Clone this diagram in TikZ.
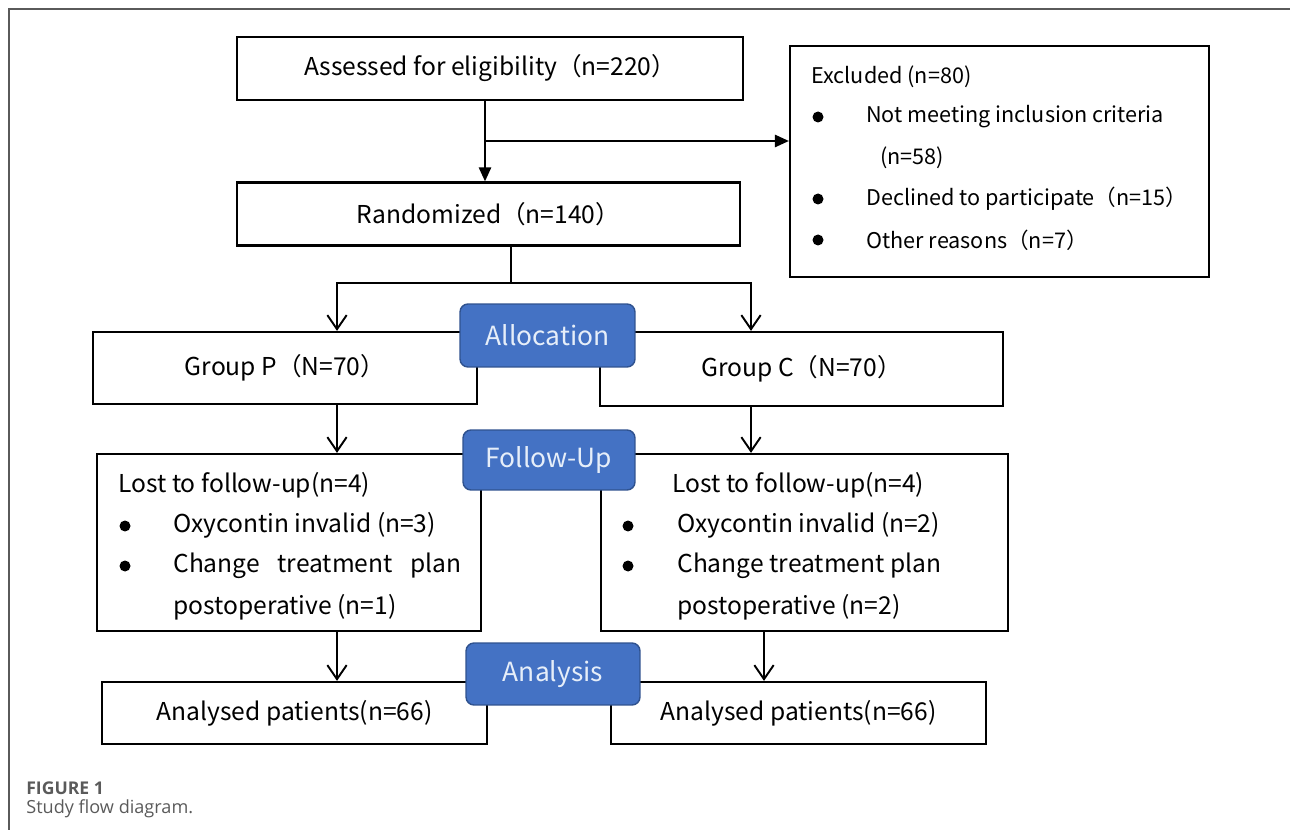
\documentclass[tikz,border=0pt]{standalone}
\usepackage{fontspec}
\setmainfont{Noto Sans CJK SC}
\newfontfamily\capfont{Open Sans}
\usepackage{xcolor}
\usetikzlibrary{positioning,arrows.meta}

\definecolor{tagblue}{HTML}{4472C4}
\definecolor{tagedge}{HTML}{2F528F}
\definecolor{tagtext}{HTML}{E6EEF9}
\definecolor{capgray}{HTML}{5A5A5A}

\begin{document}
\begin{tikzpicture}[x=0.02cm, y=-0.02cm,
    box/.style={draw, line width=1.3pt, inner sep=0pt, font=\fontsize{14}{16}\selectfont},
    tag/.style={draw=tagedge, line width=0.8pt, fill=tagblue, rounded corners=0.16cm, text=tagtext, font=\fontsize{15}{17}\selectfont},
    txt/.style={anchor=west, inner sep=0pt, font=\fontsize{14}{16}\selectfont},
    smalltxt/.style={txt, font=\fontsize{12.3}{14}\selectfont},
    dot/.style={circle, fill, inner sep=0pt, minimum size=0.22cm},
    link/.style={line width=1.1pt},
    filled/.style={link, -{Triangle[length=8pt,width=7pt]}},
    vee/.style={link, -{Straight Barb[length=8pt,width=11pt]}}]
    \useasboundingbox (0,0) rectangle (1290,830);
    % Frame
    \draw [capgray, line width=0.6pt] (9,830) -- (9,9) -- (1290,9);

    % Top boxes
    \node [box, minimum width=10.12cm, minimum height=1.26cm] (assess) at (490,68.5) {Assessed for eligibility（n=220）};
    \node [box, minimum width=10.06cm, minimum height=1.26cm] (rand) at (488.5,214) {Randomized（n=140）};
    \node [box, minimum width=8.38cm, minimum height=4.62cm] (excl) at (999.5,161.5) {};
    \node [smalltxt] (exhead) at (811,77) {Excluded (n=80)};
    \node [smalltxt] (ex1) at (866,117) {Not meeting inclusion criteria};
    \node [smalltxt] (ex1b) at (880,158) {(n=58)};
    \node [smalltxt] (ex2) at (866,199) {Declined to participate（n=15）};
    \node [smalltxt] (ex3) at (866,240) {Other reasons（n=7）};
    \foreach \y/\n in {117/1,199/2,240/3} \node [dot] (exdot\n) at (818,\y) {};

    % Groups
    \node [box, minimum width=7.68cm, minimum height=1.44cm] (grpP) at (285,368) {Group P（N=70）};
    \node [box, minimum width=8.06cm, minimum height=1.48cm] (grpC) at (801.5,369) {Group C（N=70）};

    % Follow-up boxes
    \node [box, minimum width=7.68cm, minimum height=3.54cm] (lostP) at (289,542.5) {};
    \node [txt] (lp0) at (118,485) {Lost to follow-up(n=4)};
    \node [txt] (lp1) at (173,525) {Oxycontin invalid (n=3)};
    \node [txt] (lp2) at (173,566) {\makebox[5.76cm][s]{Change treatment plan}};
    \node [txt] (lp3) at (173,607) {postoperative (n=1)};
    \node [box, minimum width=8.14cm, minimum height=3.54cm] (lostC) at (804.5,542.5) {};
    \node [txt] (lc0) at (672,485) {Lost to follow-up(n=4)};
    \node [txt] (lc1) at (677,525) {Oxycontin invalid (n=2)};
    \node [txt] (lc2) at (677,566) {Change treatment plan};
    \node [txt] (lc3) at (677,607) {postoperative (n=2)};
    \foreach \y/\n in {526/1,566/2} {
        \node [dot] (lpdot\n) at (125,\y) {};
        \node [dot] (lcdot\n) at (628,\y) {};
    }

    % Analysis boxes
    \node [box, minimum width=7.7cm, minimum height=1.24cm] (anaP) at (294.5,713) {Analysed patients(n=66)};
    \node [box, minimum width=7.5cm, minimum height=1.24cm] (anaC) at (798.5,713) {Analysed patients(n=66)};

    % Connectors
    \coordinate (split1) at (485,141);
    \draw [filled] (assess.south -| split1) -- (rand.north -| split1);
    \draw [filled] (split1) -- (split1 -| excl.west);
    \coordinate (split2) at (511,283);
    \draw [link] (rand.south -| split2) -- (split2);
    \draw [vee] (split2) -| (grpP.north -| 337,0);
    \draw [vee] (split2) -| (grpC.north -| 751,0);
    \draw [vee] (grpP.south -| 337,0) -- (lostP.north -| 337,0);
    \draw [vee] (grpC.south -| 751,0) -- (lostC.north -| 751,0);
    \draw [vee] (lostP.south -| 337,0) -- (anaP.north -| 337,0);
    \draw [vee] (lostC.south -| 764,0) -- (anaC.north -| 764,0);

    % Stage tags
    \node [tag, minimum width=3.5cm, minimum height=1.26cm] (alloc) at (547.5,335.5) {Allocation};
    \node [tag, minimum width=3.44cm, minimum height=1.2cm] (follow) at (549,460) {Follow-Up};
    \node [tag, minimum width=3.48cm, minimum height=1.24cm] (analy) at (553,674) {Analysis};

    % Caption
    \node [anchor=west, inner sep=0pt, text=capgray, font=\capfont\fontsize{10}{12}\selectfont\bfseries] (figno) at (26,788) {FIGURE 1};
    \node [anchor=west, inner sep=0pt, text=capgray, font=\capfont\fontsize{10.3}{12}\selectfont] (figcap) at (26,809) {Study flow diagram.};
\end{tikzpicture}
\end{document}
